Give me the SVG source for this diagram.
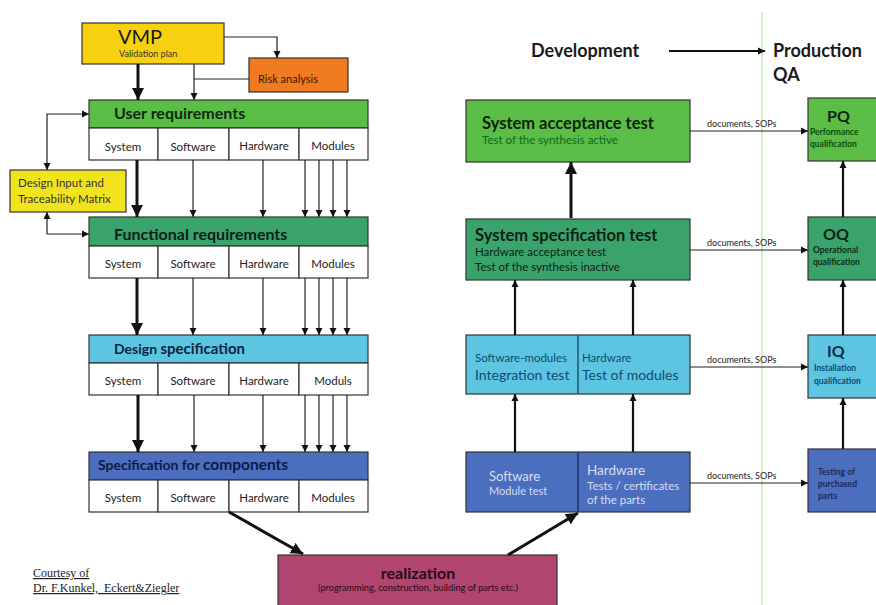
<svg xmlns="http://www.w3.org/2000/svg" width="876" height="605" viewBox="0 0 876 605">
<defs>
<marker id="a" markerUnits="userSpaceOnUse" markerWidth="8" markerHeight="8" refX="7" refY="4" orient="auto-start-reverse"><path d="M0,0.5 L7,4 L0,7.5 z" fill="#111"/></marker>
<marker id="A" markerUnits="userSpaceOnUse" markerWidth="14" markerHeight="14" refX="12" refY="6" orient="auto"><path d="M0,0 L12,6 L0,12 z" fill="#111"/></marker>
</defs>
<style>
text{font-family:Lato,"Open Sans","Liberation Sans",sans-serif}
.box{stroke:#333;stroke-width:1.2}
.cell{fill:#fff;stroke:#333;stroke-width:1.2}
.ct{font-size:11.5px;fill:#222;text-anchor:middle}
.bt{font-size:16px;font-weight:bold}
.thin{stroke:#222;stroke-width:1.2;fill:none;marker-end:url(#a)}
.thick{stroke:#111;stroke-width:3;fill:none;marker-end:url(#A)}
.mid{stroke:#111;stroke-width:2.2;fill:none;marker-end:url(#a)}
.doc{font-size:9px;fill:#222}
.q{font-size:8.5px;font-weight:bold}
.serif{font-family:"Liberation Serif",serif;font-size:12px;fill:#222;text-decoration:underline}
</style>
<rect width="876" height="605" fill="#fff"/>
<line x1="762" y1="12" x2="762" y2="605" stroke="#bfeeb8" stroke-width="1.5"/>

<g id="vmp"><rect class="box" x="82" y="23" width="142" height="41" fill="#f7d10f"/>
<text x="118" y="44" font-size="20" fill="#1a1a1a">VMP</text>
<text x="119" y="57" font-size="9" fill="#333">Validation plan</text></g>

<g id="risk"><rect class="box" x="249" y="58" width="99" height="34" fill="#f07b21"/>
<text x="258" y="83" font-size="11" fill="#3a1a00">Risk analysis</text></g>

<g id="dim"><rect class="box" x="10" y="170" width="116" height="42" fill="#f2e31f"/>
<text x="18" y="187" font-size="11.5" fill="#333">Design Input and</text>
<text x="18" y="203" font-size="11.5" fill="#333">Traceability Matrix</text></g>

<g id="userreq"><rect class="box" x="89" y="100" width="279" height="28" fill="#5bbd46"/>
<text class="bt" x="114" y="119" fill="#0d2a0d">User requirements</text>
<rect class="cell" x="89" y="128" width="69" height="32"/><rect class="cell" x="158" y="128" width="71" height="32"/><rect class="cell" x="229" y="128" width="70" height="32"/><rect class="cell" x="299" y="128" width="69" height="32"/>
<text class="ct" x="123" y="151">System</text><text class="ct" x="193" y="151">Software</text><text class="ct" x="264" y="150">Hardware</text><text class="ct" x="333" y="150">Modules</text></g>

<g id="funcreq"><rect class="box" x="89" y="217" width="279" height="29" fill="#3aa26b"/>
<text class="bt" x="114" y="240" fill="#0d1f14">Functional requirements</text>
<rect class="cell" x="89" y="246" width="69" height="32"/><rect class="cell" x="158" y="246" width="71" height="32"/><rect class="cell" x="229" y="246" width="70" height="32"/><rect class="cell" x="299" y="246" width="69" height="32"/>
<text class="ct" x="123" y="268">System</text><text class="ct" x="193" y="268">Software</text><text class="ct" x="264" y="268">Hardware</text><text class="ct" x="333" y="268">Modules</text></g>

<g id="designspec"><rect class="box" x="89" y="335" width="279" height="28" fill="#5dc5e2"/>
<text x="114" y="354" font-size="14" font-weight="bold" fill="#0a2540">Design <tspan font-size="15">specification</tspan></text>
<rect class="cell" x="89" y="363" width="69" height="32"/><rect class="cell" x="158" y="363" width="71" height="32"/><rect class="cell" x="229" y="363" width="70" height="32"/><rect class="cell" x="299" y="363" width="69" height="32"/>
<text class="ct" x="123" y="385">System</text><text class="ct" x="193" y="385">Software</text><text class="ct" x="264" y="385">Hardware</text><text class="ct" x="333" y="385">Moduls</text></g>

<g id="speccomp"><rect class="box" x="89" y="452" width="279" height="28" fill="#4b6fbe"/>
<text x="98" y="470" font-size="14" font-weight="bold" fill="#0d1a45">Specification for <tspan font-size="15.5">components</tspan></text>
<rect class="cell" x="89" y="480" width="69" height="32"/><rect class="cell" x="158" y="480" width="71" height="32"/><rect class="cell" x="229" y="480" width="70" height="32"/><rect class="cell" x="299" y="480" width="69" height="32"/>
<text class="ct" x="123" y="502">System</text><text class="ct" x="193" y="502">Software</text><text class="ct" x="264" y="502">Hardware</text><text class="ct" x="333" y="502">Modules</text></g>

<g id="realization"><rect class="box" x="278" y="555" width="279" height="55" fill="#b0456f"/>
<text x="418" y="579" font-size="16" font-weight="bold" fill="#2a0a18" text-anchor="middle">realization</text>
<text x="418" y="591" font-size="9.2" fill="#2a0a18" text-anchor="middle">(programming, construction, building of parts etc.)</text></g>

<g id="headers">
<text x="531" y="57" font-size="18" font-weight="bold" fill="#1a1a1a">Development</text>
<text x="773" y="57" font-size="18" font-weight="bold" fill="#1a1a1a">Production</text>
<text x="773" y="81" font-size="18" font-weight="bold" fill="#1a1a1a">QA</text></g>

<g id="sat"><rect class="box" x="466" y="100" width="224" height="62" fill="#5bbd46"/>
<text x="482" y="129" font-size="16.5" font-weight="bold" fill="#0d1f0d">System acceptance test</text>
<text x="482" y="144" font-size="11.5" fill="#0a6a18">Test of the synthesis active</text></g>

<g id="sst"><rect class="box" x="466" y="219" width="224" height="61" fill="#3aa26b"/>
<text x="475" y="241" font-size="16.5" font-weight="bold" fill="#0d1f14">System specification test</text>
<text x="475" y="256" font-size="11.5" fill="#0d1f14">Hardware acceptance test</text>
<text x="475" y="271" font-size="11.5" fill="#0d1f14">Test of the synthesis inactive</text></g>

<g id="integ"><rect class="box" x="466" y="335" width="224" height="59" fill="#5dc5e2"/>
<line x1="578" y1="335" x2="578" y2="394" stroke="#1a5570" stroke-width="1.5"/>
<text x="475" y="362" font-size="11.5" fill="#0d4d6e">Software-modules</text>
<text x="475" y="380" font-size="14" fill="#0d4d6e">Integration test</text>
<text x="582" y="362" font-size="11.5" fill="#0d4d6e">Hardware</text>
<text x="582" y="380" font-size="14" fill="#0d4d6e">Test of modules</text></g>

<g id="module"><rect class="box" x="466" y="452" width="224" height="60" fill="#4b6fbe"/>
<line x1="578" y1="452" x2="578" y2="512" stroke="#1d2f66" stroke-width="1.5"/>
<text x="489" y="481" font-size="13" fill="#d6def2">Software</text>
<text x="489" y="495" font-size="11" fill="#d6def2">Module test</text>
<text x="587" y="475" font-size="13.5" fill="#d6def2">Hardware</text>
<text x="587" y="490" font-size="11.5" fill="#d6def2">Tests / certificates</text>
<text x="587" y="504" font-size="11.5" fill="#d6def2">of the parts</text></g>

<g id="pq"><rect class="box" x="808" y="98" width="80" height="63" fill="#5bbd46"/>
<text x="827" y="122" font-size="16" font-weight="bold" fill="#0d1f0d">PQ</text>
<text class="q" x="810" y="135" fill="#0a4a10">Performance</text>
<text class="q" x="810" y="147" fill="#0a4a10">qualification</text></g>

<g id="oq"><rect class="box" x="808" y="217" width="80" height="63" fill="#3aa26b"/>
<text x="823" y="240" font-size="16" font-weight="bold" fill="#0d1f14">OQ</text>
<text class="q" x="813" y="253" fill="#0d2e1a">Operational</text>
<text class="q" x="813" y="265" fill="#0d2e1a">qualification</text></g>

<g id="iq"><rect class="box" x="808" y="335" width="80" height="63" fill="#5dc5e2"/>
<text x="827" y="357" font-size="16" font-weight="bold" fill="#0d2e40">IQ</text>
<text class="q" x="814" y="371" fill="#0d4a6e">Installation</text>
<text class="q" x="814" y="384" fill="#0d4a6e">qualification</text></g>

<g id="purchased"><rect class="box" x="808" y="449" width="80" height="63" fill="#4b6fbe"/>
<text class="q" x="818" y="475" fill="#1a2a5a">Testing of</text>
<text class="q" x="818" y="487" fill="#1a2a5a">purchased</text>
<text class="q" x="818" y="499" fill="#1a2a5a">parts</text></g>

<g id="courtesy">
<text class="serif" x="33" y="577">Courtesy of</text>
<text class="serif" x="33" y="592" xml:space="preserve">Dr. F.Kunkel,  Eckert&amp;Ziegler</text></g>

<g id="connectors">
<polyline class="thin" points="224,37 277,37 277,58"/>
<line x1="249" y1="79" x2="194" y2="79" stroke="#222" stroke-width="1.2"/>
<line class="thin" x1="194" y1="64" x2="194" y2="100"/>
<line class="thick" x1="138" y1="64" x2="138" y2="100"/>
<polyline class="thin" points="47,170 47,114 89,114" style="marker-start:url(#a)"/>
<polyline class="thin" points="47,212 47,234 89,234" style="marker-start:url(#a)"/>

<line class="thick" x1="137" y1="160" x2="137" y2="217"/>
<line class="thin" x1="193" y1="160" x2="193" y2="217"/>
<line class="thin" x1="263" y1="160" x2="263" y2="217"/>
<line class="thin" x1="305" y1="160" x2="305" y2="217"/>
<line class="thin" x1="319" y1="160" x2="319" y2="217"/>
<line class="thin" x1="333" y1="160" x2="333" y2="217"/>
<line class="thin" x1="347" y1="160" x2="347" y2="217"/>

<line class="thick" x1="137" y1="278" x2="137" y2="335"/>
<line class="thin" x1="193" y1="278" x2="193" y2="335"/>
<line class="thin" x1="263" y1="278" x2="263" y2="335"/>
<line class="thin" x1="305" y1="278" x2="305" y2="335"/>
<line class="thin" x1="319" y1="278" x2="319" y2="335"/>
<line class="thin" x1="333" y1="278" x2="333" y2="335"/>
<line class="thin" x1="347" y1="278" x2="347" y2="335"/>

<line class="thick" x1="138" y1="395" x2="138" y2="452"/>
<line class="thin" x1="194" y1="395" x2="194" y2="452"/>
<line class="thin" x1="263" y1="395" x2="263" y2="452"/>
<line class="thin" x1="305" y1="395" x2="305" y2="452"/>
<line class="thin" x1="319" y1="395" x2="319" y2="452"/>
<line class="thin" x1="333" y1="395" x2="333" y2="452"/>
<line class="thin" x1="347" y1="395" x2="347" y2="452"/>

<line class="thick" x1="229" y1="512" x2="303" y2="554"/>
<line class="thick" x1="508" y1="555" x2="578" y2="513"/>

<line class="mid" x1="669" y1="51" x2="765" y2="51"/>

<line class="thick" x1="571" y1="218" x2="571" y2="162"/>
<line class="mid" x1="515" y1="335" x2="515" y2="280"/>
<line class="mid" x1="633" y1="335" x2="633" y2="280"/>
<line class="mid" x1="515" y1="452" x2="515" y2="394"/>
<line class="mid" x1="633" y1="452" x2="633" y2="394"/>
<line class="mid" x1="843" y1="217" x2="843" y2="161"/>
<line class="mid" x1="843" y1="335" x2="843" y2="280"/>
<line class="mid" x1="843" y1="449" x2="843" y2="398"/>

<line class="thin" x1="690" y1="131" x2="808" y2="131"/>
<line class="thin" x1="690" y1="250" x2="808" y2="250"/>
<line class="thin" x1="690" y1="367" x2="808" y2="367"/>
<line class="thin" x1="690" y1="483" x2="808" y2="483"/>
<text class="doc" x="707" y="127">documents, SOPs</text>
<text class="doc" x="707" y="246">documents, SOPs</text>
<text class="doc" x="707" y="363">documents, SOPs</text>
<text class="doc" x="707" y="479">documents, SOPs</text>
</g>
</svg>
